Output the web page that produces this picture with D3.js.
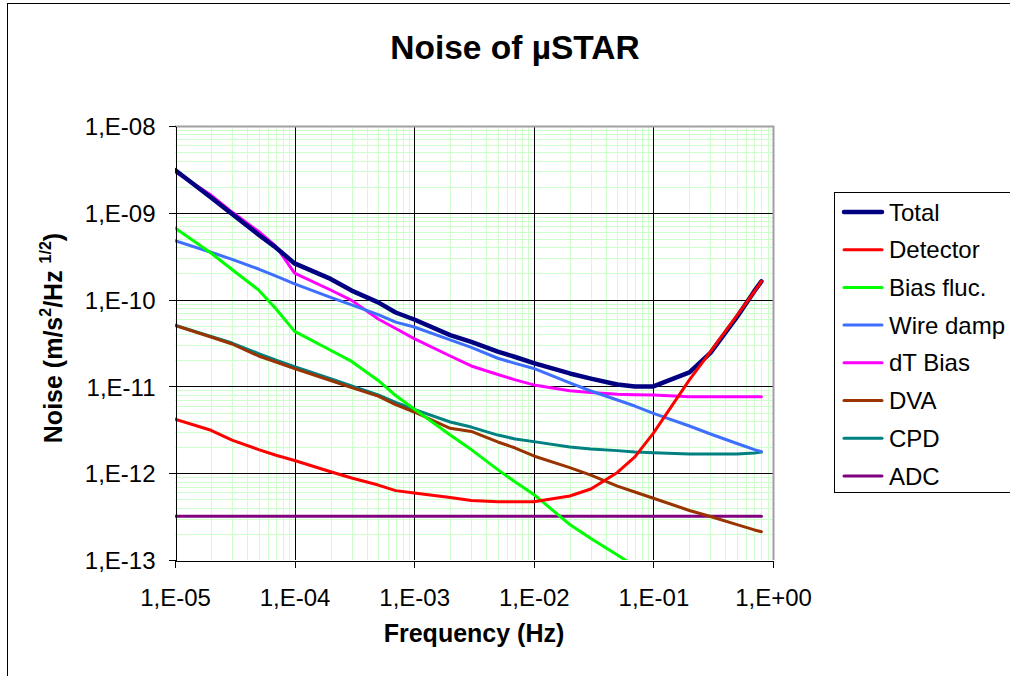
<!DOCTYPE html>
<html>
<head>
<meta charset="utf-8">
<script src="https://cdn.jsdelivr.net/npm/d3@7"></script>
<style>
  html, body { margin: 0; padding: 0; background: #fff; }
  svg { display: block; font-family: "Liberation Sans", Arial, sans-serif; }
</style>
</head>
<body>
<svg id="chart" width="1010" height="676"></svg>
<script>
// Frequency grid (Hz) shared by all noise contributions
const freq = [1e-5, 2e-5, 3e-5, 5e-5, 7e-5,
              1e-4, 2e-4, 3e-4, 5e-4, 7e-4,
              1e-3, 2e-3, 3e-3, 5e-3, 7e-3,
              1e-2, 2e-2, 3e-2, 5e-2, 7e-2,
              1e-1, 2e-1, 3e-1, 5e-1, 7e-1, 0.8];

// Noise spectral densities, m/s^2/Hz^1/2
const total = [3.11e-9, 1.50e-9, 9.7e-10, 5.6e-10, 3.96e-10,
               2.61e-10, 1.73e-10, 1.27e-10, 9.3e-11, 7.1e-11,
               5.9e-11, 3.9e-11, 3.25e-11, 2.52e-11, 2.18e-11,
               1.85e-11, 1.41e-11, 1.23e-11, 1.05e-11, 1.0e-11,
               1.0e-11, 1.45e-11, 2.43e-11, 6.3e-11, 1.26e-10, 1.62e-10];
const detector = [4.19e-12, 3.12e-12, 2.41e-12, 1.87e-12, 1.61e-12,
                  1.40e-12, 1.04e-12, 8.8e-13, 7.3e-13, 6.3e-13,
                  5.9e-13, 5.25e-13, 4.84e-13, 4.7e-13, 4.7e-13,
                  4.7e-13, 5.46e-13, 6.58e-13, 1.02e-12, 1.54e-12,
                  2.89e-12, 1.19e-11, 2.52e-11, 6.6e-11, 1.24e-10, 1.62e-10];
const biasFluc = [6.68e-10, 3.44e-10, 2.22e-10, 1.29e-10, 7.8e-11,
                  4.3e-11, 2.61e-11, 1.94e-11, 1.17e-11, 7.85e-12,
                  5.5e-12, 2.75e-12, 1.87e-12, 1.10e-12, 7.9e-13,
                  5.7e-13, 2.56e-13, 1.77e-13, 1.14e-13, 8.5e-14];
const wireDamp = [4.77e-10, 3.51e-10, 2.91e-10, 2.25e-10, 1.86e-10,
                  1.52e-10, 1.06e-10, 8.7e-11, 6.7e-11, 5.5e-11,
                  4.83e-11, 3.43e-11, 2.82e-11, 2.11e-11, 1.84e-11,
                  1.61e-11, 1.10e-11, 8.85e-12, 6.97e-12, 5.94e-12,
                  4.9e-12, 3.5e-12, 2.83e-12, 2.2e-12, 1.87e-12, 1.77e-12];
const dTBias = [2.97e-9, 1.60e-9, 1.02e-9, 6.1e-10, 4.09e-10,
                2.02e-10, 1.29e-10, 9.8e-11, 5.97e-11, 4.65e-11,
                3.55e-11, 2.24e-11, 1.72e-11, 1.37e-11, 1.19e-11,
                1.04e-11, 8.9e-12, 8.5e-12, 8.1e-12, 8.0e-12,
                7.96e-12, 7.6e-12, 7.6e-12, 7.6e-12, 7.6e-12, 7.6e-12];
const dva = [5.04e-11, 3.71e-11, 3.08e-11, 2.24e-11, 1.91e-11,
             1.60e-11, 1.17e-11, 9.7e-12, 7.74e-12, 6.18e-12,
             5.07e-12, 3.29e-12, 3.03e-12, 2.29e-12, 1.95e-12,
             1.58e-12, 1.16e-12, 9.5e-13, 7.1e-13, 6.07e-13,
             5.14e-13, 3.72e-13, 3.17e-13, 2.56e-13, 2.22e-13, 2.12e-13];
const cpd = [5.09e-11, 3.76e-11, 3.16e-11, 2.39e-11, 2.01e-11,
             1.69e-11, 1.23e-11, 1.01e-11, 7.96e-12, 6.53e-12,
             5.44e-12, 3.89e-12, 3.40e-12, 2.75e-12, 2.48e-12,
             2.31e-12, 2.00e-12, 1.90e-12, 1.82e-12, 1.75e-12,
             1.72e-12, 1.66e-12, 1.66e-12, 1.66e-12, 1.71e-12, 1.75e-12];
const adc = [3.2e-13, 3.2e-13, 3.2e-13, 3.2e-13, 3.2e-13,
             3.2e-13, 3.2e-13, 3.2e-13, 3.2e-13, 3.2e-13,
             3.2e-13, 3.2e-13, 3.2e-13, 3.2e-13, 3.2e-13,
             3.2e-13, 3.2e-13, 3.2e-13, 3.2e-13, 3.2e-13,
             3.2e-13, 3.2e-13, 3.2e-13, 3.2e-13, 3.2e-13, 3.2e-13];

const seriesNames = ["Total", "Detector", "Bias fluc.", "Wire damp", "dT Bias", "DVA", "CPD", "ADC"];
const seriesValues = [total, detector, biasFluc, wireDamp, dTBias, dva, cpd, adc];
const seriesColors = ["#000080", "#ff0000", "#00ff00", "#3f6fff", "#ff00ff", "#993300", "#008080", "#800080"];
const seriesWidths = [4.5, 3, 3, 3, 3, 3, 3, 3];

const xTickValues = [1e-5, 1e-4, 1e-3, 1e-2, 1e-1, 1];
const xTickLabels = ["1,E-05", "1,E-04", "1,E-03", "1,E-02", "1,E-01", "1,E+00"];
const yTickValues = [1e-13, 1e-12, 1e-11, 1e-10, 1e-9, 1e-8];
const yTickLabels = ["1,E-13", "1,E-12", "1,E-11", "1,E-10", "1,E-09", "1,E-08"];

const svg = d3.select("#chart");
const plot = { left: 175, right: 773, top: 126, bottom: 560 };

const x = d3.scaleLog().domain([1e-5, 1]).range([plot.left, plot.right]);
const y = d3.scaleLog().domain([1e-13, 1e-8]).range([plot.bottom, plot.top]);

// Chart frame
svg.append("rect")
  .attr("x", 7.5).attr("y", 3.5).attr("width", 1100).attr("height", 800)
  .attr("fill", "#fff").attr("stroke", "#000").attr("stroke-width", 1);

// Title
svg.append("text")
  .attr("x", 515).attr("y", 59)
  .attr("text-anchor", "middle")
  .attr("font-size", "33.5px").attr("font-weight", "bold")
  .text("Noise of µSTAR");

// Minor gridlines (2..9 within each decade)
const minorX = x.ticks().filter(v => xTickValues.indexOf(v) < 0 && v > 1e-5 && v < 1);
const minorY = y.ticks().filter(v => yTickValues.indexOf(v) < 0 && v > 1e-13 && v < 1e-8);
const grid = svg.append("g").attr("shape-rendering", "crispEdges");
grid.selectAll("line.mx").data(minorX).join("line")
  .attr("x1", d => Math.round(x(d)) + 0.5).attr("x2", d => Math.round(x(d)) + 0.5)
  .attr("y1", plot.top).attr("y2", plot.bottom)
  .attr("stroke", "#ccffcc").attr("stroke-width", 1);
grid.selectAll("line.my").data(minorY).join("line")
  .attr("y1", d => Math.round(y(d)) + 0.5).attr("y2", d => Math.round(y(d)) + 0.5)
  .attr("x1", plot.left).attr("x2", plot.right)
  .attr("stroke", "#ccffcc").attr("stroke-width", 1);

// Major gridlines
grid.selectAll("line.Mx").data(xTickValues.slice(1, -1)).join("line")
  .attr("x1", d => Math.round(x(d)) + 0.5).attr("x2", d => Math.round(x(d)) + 0.5)
  .attr("y1", plot.top).attr("y2", plot.bottom)
  .attr("stroke", "#000").attr("stroke-width", 1);
grid.selectAll("line.My").data(yTickValues.slice(1, -1)).join("line")
  .attr("y1", d => Math.round(y(d)) + 0.5).attr("y2", d => Math.round(y(d)) + 0.5)
  .attr("x1", plot.left).attr("x2", plot.right)
  .attr("stroke", "#000").attr("stroke-width", 1);

// Plot area border (top / right)
svg.append("path")
  .attr("d", `M${plot.left},${plot.top + 0.5}H${plot.right + 0.5}V${plot.bottom}`)
  .attr("fill", "none").attr("stroke", "#a0a0a0").attr("stroke-width", 2);

// Series
svg.append("clipPath").attr("id", "plotClip")
  .append("rect")
  .attr("x", plot.left).attr("y", plot.top)
  .attr("width", plot.right - plot.left).attr("height", plot.bottom - plot.top);

const line = d3.line().x(d => x(d[0])).y(d => y(d[1]));
const seriesG = svg.append("g").attr("clip-path", "url(#plotClip)");
// draw so that Total is on top, Detector just beneath it
const drawOrder = [7, 6, 5, 4, 3, 2, 0, 1];
drawOrder.forEach(i => {
  const pts = seriesValues[i].map((v, k) => [freq[k], v]);
  seriesG.append("path")
    .datum(pts)
    .attr("d", line)
    .attr("fill", "none")
    .attr("stroke", seriesColors[i])
    .attr("stroke-width", seriesWidths[i])
    .attr("stroke-linejoin", "round")
    .attr("stroke-linecap", "round");
});

// Axes
const xAxis = d3.axisBottom(x)
  .tickValues(xTickValues)
  .tickFormat((d, i) => xTickLabels[i])
  .tickSizeInner(7).tickSizeOuter(0);
const gx = svg.append("g")
  .attr("transform", `translate(0,${plot.bottom + 0.5})`)
  .call(xAxis);
gx.select(".domain").attr("stroke", "#000").attr("stroke-width", 1).attr("shape-rendering", "crispEdges");
gx.selectAll(".tick line").attr("stroke", "#000").attr("shape-rendering", "crispEdges");
gx.selectAll(".tick text")
  .attr("y", 45.5).attr("dy", null)
  .attr("font-size", "24px").attr("fill", "#000")
  .attr("font-family", "Liberation Sans, Arial, sans-serif");

const yAxis = d3.axisLeft(y)
  .tickValues(yTickValues)
  .tickFormat((d, i) => yTickLabels[i])
  .tickSizeInner(7).tickSizeOuter(0);
const gy = svg.append("g")
  .attr("transform", `translate(${plot.left + 0.5},0)`)
  .call(yAxis);
gy.select(".domain").attr("stroke", "#000").attr("stroke-width", 1).attr("shape-rendering", "crispEdges");
gy.selectAll(".tick line").attr("stroke", "#000").attr("shape-rendering", "crispEdges");
gy.selectAll(".tick text")
  .attr("x", -20).attr("dy", "0.36em")
  .attr("font-size", "24px").attr("fill", "#000")
  .attr("font-family", "Liberation Sans, Arial, sans-serif");

// Axis titles
svg.append("text")
  .attr("x", 474).attr("y", 642)
  .attr("text-anchor", "middle")
  .attr("font-size", "25px").attr("font-weight", "bold")
  .text("Frequency (Hz)");

const yt = svg.append("text")
  .attr("transform", "translate(62,338) rotate(-90)")
  .attr("text-anchor", "middle")
  .attr("font-size", "25px").attr("font-weight", "bold");
yt.append("tspan").text("Noise (m/s");
yt.append("tspan").attr("font-size", "16px").attr("dy", -11).text("2");
yt.append("tspan").attr("dy", 11).text("/Hz ");
yt.append("tspan").attr("font-size", "16px").attr("dy", -11).text("1/2");
yt.append("tspan").attr("dy", 11).text(")");

// Legend
const legend = svg.append("g");
legend.append("rect")
  .attr("x", 834.5).attr("y", 192.5).attr("width", 200).attr("height", 300)
  .attr("fill", "#fff").attr("stroke", "#000").attr("stroke-width", 1);
seriesNames.forEach((name, i) => {
  const cy = 212 + i * 37.7;
  legend.append("line")
    .attr("x1", 844).attr("x2", 882).attr("y1", cy).attr("y2", cy)
    .attr("stroke", seriesColors[i]).attr("stroke-width", seriesWidths[i])
    .attr("stroke-linecap", "round");
  legend.append("text")
    .attr("x", 889).attr("y", cy).attr("dy", "0.36em")
    .attr("font-size", "24px").attr("fill", "#000")
    .text(name);
});
</script>
</body>
</html>
